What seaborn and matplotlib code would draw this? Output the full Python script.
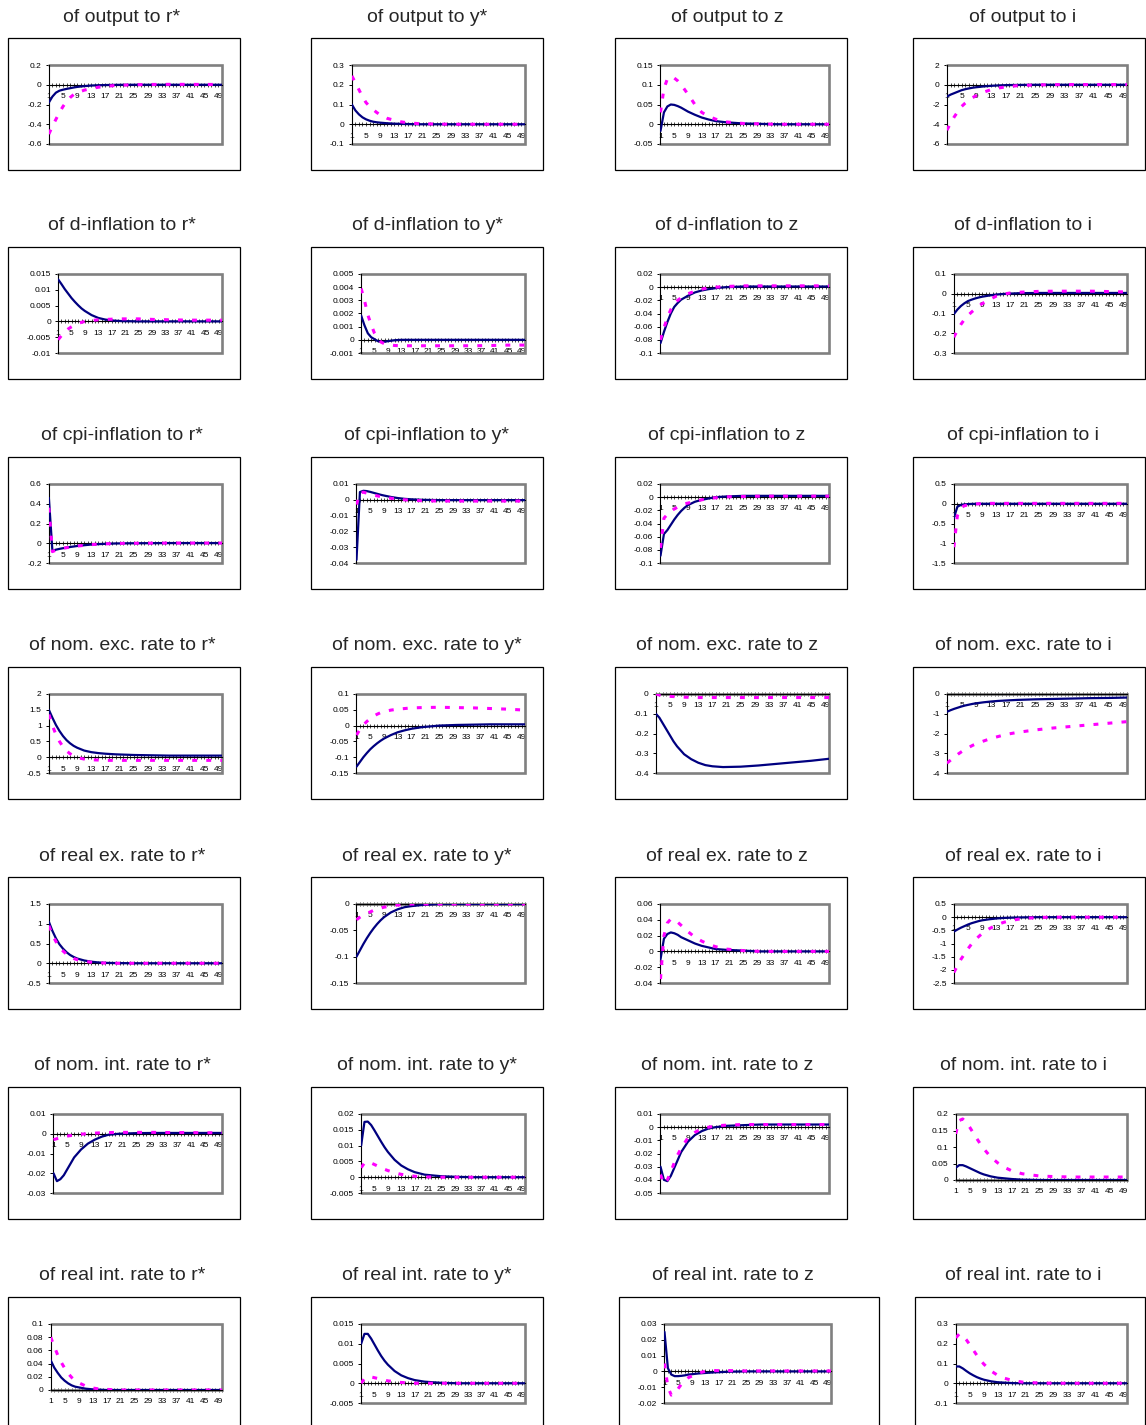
#!/usr/bin/env python3
"""Impulse responses: 7 variables x 4 shocks, two model variants per panel."""

import matplotlib
matplotlib.use("Agg")
import matplotlib.pyplot as plt
from matplotlib.patches import Rectangle
from matplotlib.ticker import FixedLocator, FuncFormatter
import numpy as np
import seaborn as sns

W, H = 1146, 1425

PERIODS = [1, 2, 3, 4, 5, 6, 7, 8, 9, 11, 13, 15, 17, 20, 25, 30, 35, 40, 45, 50]
X_LABELS = [1, 5, 9, 13, 17, 21, 25, 29, 33, 37, 41, 45, 49]
VARIABLES = ["output", "d-inflation", "cpi-inflation", "nom. exc. rate",
             "real ex. rate", "nom. int. rate", "real int. rate"]
SHOCKS = ["r*", "y*", "z", "i"]

# ---- output
output_rstar_base = [-0.18, -0.12, -0.08, -0.06, -0.05, -0.042, -0.035, -0.028, -0.022, -0.014,
                     -0.008, -0.005, -0.003, -0.001, 0, 0, 0, 0, 0, 0]
output_rstar_alt = [-0.5, -0.42, -0.35, -0.28, -0.22, -0.17, -0.13, -0.1, -0.08, -0.055,
                    -0.038, -0.025, -0.016, -0.007, 0.0, 0.003, 0.004, 0.004, 0.003, 0.003]
output_ystar_base = [0.1, 0.07, 0.05, 0.035, 0.025, 0.018, 0.013, 0.01, 0.008, 0.005,
                     0.003, 0.002, 0.001, 0, 0, 0, 0, 0, 0, 0]
output_ystar_alt = [0.245, 0.21, 0.175, 0.14, 0.11, 0.09, 0.075, 0.06, 0.048, 0.03,
                    0.02, 0.012, 0.007, 0.003, 0.001, 0, 0, 0, 0, 0]
output_z_base = [-0.017, 0.03, 0.045, 0.05, 0.049, 0.046, 0.042, 0.037, 0.032, 0.024,
                 0.017, 0.012, 0.008, 0.005, 0.002, 0.001, 0, 0, 0, 0]
output_z_alt = [0.03, 0.09, 0.115, 0.12, 0.117, 0.11, 0.1, 0.088, 0.076, 0.05,
                0.03, 0.02, 0.013, 0.006, 0.002, 0.001, 0, 0, 0, 0]
output_i_base = [-1.2, -1.0, -0.85, -0.7, -0.55, -0.45, -0.37, -0.3, -0.25, -0.17,
                 -0.11, -0.07, -0.04, -0.02, 0, 0, 0, 0, 0, 0]
output_i_alt = [-4.6, -3.9, -3.25, -2.7, -2.2, -1.85, -1.55, -1.3, -1.1, -0.75,
                -0.5, -0.33, -0.22, -0.1, -0.02, 0.01, 0.02, 0.02, 0.02, 0.02]
output_yaxes = [(-0.6, 0.2, 0.2), (-0.1, 0.3, 0.1), (-0.05, 0.15, 0.05), (-6, 2, 2)]

# ---- d-inflation
dinf_rstar_base = [0.0133, 0.0118, 0.0102, 0.0088, 0.0074, 0.0062, 0.0051, 0.0041, 0.0033, 0.002,
                   0.0011, 0.0006, 0.0003, 0.0001, 0, 0, 0, 0, 0, 0]
dinf_rstar_alt = [-0.0058, -0.0045, -0.0033, -0.0024, -0.0017, -0.0011, -0.0006, -0.0003, 0.0, 0.0003,
                  0.0005, 0.0006, 0.0007, 0.0008, 0.0008, 0.0006, 0.0005, 0.0004, 0.0004, 0.0004]
dinf_ystar_base = [0.00185, 0.0011, 0.0005, 0.0002, 0.00005, -0.0001, -0.00015, -0.00015, -0.0001, -0.00003,
                   0, 0, 0, 0, 0, 0, 0, 0, 0, 0]
dinf_ystar_alt = [0.0039, 0.003, 0.0019, 0.00115, 0.0005, 0.0001, -0.00018, -0.0003, -0.00036, -0.00043,
                  -0.00045, -0.00045, -0.00045, -0.00045, -0.00045, -0.00045, -0.00045, -0.00043, -0.0004, -0.0004]
dinf_z_base = [-0.085, -0.068, -0.053, -0.04, -0.03, -0.024, -0.019, -0.016, -0.013, -0.008,
               -0.005, -0.003, -0.0015, 0, 0.001, 0.001, 0.001, 0.001, 0.001, 0.001]
dinf_z_alt = [-0.08, -0.062, -0.046, -0.034, -0.025, -0.02, -0.016, -0.013, -0.01, -0.006,
              -0.003, -0.001, 0, 0.001, 0.002, 0.002, 0.002, 0.002, 0.002, 0.002]
dinf_i_base = [-0.103, -0.08, -0.062, -0.048, -0.037, -0.03, -0.024, -0.019, -0.015, -0.009,
               -0.004, -0.001, 0.001, 0.003, 0.004, 0.004, 0.004, 0.004, 0.004, 0.004]
dinf_i_alt = [-0.22, -0.185, -0.155, -0.13, -0.11, -0.093, -0.078, -0.063, -0.05, -0.03,
              -0.012, -0.002, 0.004, 0.008, 0.012, 0.013, 0.013, 0.013, 0.011, 0.009]
dinf_yaxes = [(-0.01, 0.015, 0.005), (-0.001, 0.005, 0.001), (-0.1, 0.02, 0.02), (-0.3, 0.1, 0.1)]

# ---- cpi-inflation
cpi_rstar_base = [0.46, -0.075, -0.065, -0.057, -0.05, -0.044, -0.038, -0.033, -0.028, -0.02,
                  -0.013, -0.009, -0.006, -0.002, 0, 0.001, 0.002, 0.002, 0.002, 0.002]
cpi_rstar_alt = [0.36, -0.085, -0.07, -0.06, -0.052, -0.045, -0.039, -0.034, -0.029, -0.021,
                 -0.014, -0.009, -0.006, -0.002, 0, 0.001, 0.002, 0.002, 0.002, 0.002]
cpi_ystar_base = [-0.038, 0.0049, 0.0057, 0.0055, 0.005, 0.0044, 0.0038, 0.0032, 0.0027, 0.0018,
                  0.0011, 0.0006, 0.0003, 0, -0.0002, -0.0002, -0.0002, -0.0002, -0.0002, -0.0002]
cpi_ystar_alt = [-0.003, 0.0045, 0.0048, 0.0042, 0.0035, 0.003, 0.0025, 0.002, 0.0016, 0.001,
                 0.0004, 0, -0.0003, -0.0006, -0.0008, -0.0008, -0.0008, -0.0008, -0.0008, -0.0008]
cpi_z_base = [-0.089, -0.056, -0.05, -0.042, -0.034, -0.027, -0.021, -0.016, -0.012, -0.007,
              -0.004, -0.002, 0, 0.001, 0.002, 0.002, 0.002, 0.002, 0.002, 0.002]
cpi_z_alt = [-0.077, -0.032, -0.026, -0.021, -0.018, -0.015, -0.012, -0.01, -0.009, -0.006,
             -0.004, -0.002, -0.001, 0.0005, 0.001, 0.0015, 0.0015, 0.0015, 0.0015, 0.0015]
cpi_i_base = [-0.36, -0.075, -0.03, -0.015, -0.008, -0.004, -0.002, 0, 0, 0,
              0, 0, 0, 0, 0, 0, 0, 0, 0, 0]
cpi_i_alt = [-1.1, -0.3, -0.1, -0.05, -0.03, -0.02, -0.01, 0, 0, 0.01,
             0.01, 0.01, 0.01, 0.01, 0.01, 0.01, 0.01, 0.01, 0.01, 0.01]
cpi_yaxes = [(-0.2, 0.6, 0.2), (-0.04, 0.01, 0.01), (-0.1, 0.02, 0.02), (-1.5, 0.5, 0.5)]

# ---- nominal exchange rate
nexr_rstar_base = [1.5, 1.25, 1.02, 0.83, 0.67, 0.54, 0.44, 0.36, 0.3, 0.21,
                   0.16, 0.13, 0.11, 0.09, 0.07, 0.06, 0.05, 0.05, 0.05, 0.05]
nexr_rstar_alt = [1.35, 1.0, 0.72, 0.5, 0.33, 0.2, 0.11, 0.04, -0.01, -0.06,
                  -0.08, -0.09, -0.1, -0.1, -0.1, -0.1, -0.1, -0.1, -0.1, -0.1]
nexr_ystar_base = [-0.13, -0.115, -0.1, -0.087, -0.075, -0.065, -0.056, -0.048, -0.041, -0.03,
                   -0.021, -0.015, -0.01, -0.005, 0, 0.002, 0.003, 0.004, 0.004, 0.004]
nexr_ystar_alt = [-0.03, -0.012, 0.002, 0.013, 0.022, 0.03, 0.036, 0.041, 0.044, 0.049,
                  0.052, 0.054, 0.056, 0.057, 0.058, 0.057, 0.056, 0.054, 0.052, 0.049]
nexr_z_base = [-0.1, -0.12, -0.15, -0.18, -0.21, -0.24, -0.265, -0.285, -0.305, -0.33,
               -0.348, -0.36, -0.366, -0.37, -0.368, -0.362, -0.354, -0.346, -0.338, -0.328]
nexr_z_alt = [0, -0.005, -0.008, -0.01, -0.012, -0.013, -0.014, -0.015, -0.016, -0.017,
              -0.018, -0.018, -0.018, -0.018, -0.018, -0.018, -0.018, -0.018, -0.018, -0.018]
nexr_i_base = [-0.9, -0.82, -0.75, -0.69, -0.63, -0.58, -0.54, -0.5, -0.47, -0.42,
               -0.38, -0.35, -0.33, -0.3, -0.27, -0.25, -0.23, -0.21, -0.2, -0.18]
nexr_i_alt = [-3.5, -3.35, -3.2, -3.05, -2.92, -2.8, -2.7, -2.6, -2.52, -2.38,
              -2.25, -2.15, -2.05, -1.95, -1.82, -1.72, -1.64, -1.56, -1.48, -1.4]
nexr_yaxes = [(-0.5, 2, 0.5), (-0.15, 0.1, 0.05), (-0.4, 0, 0.1), (-4, 0, 1)]

# ---- real exchange rate
rexr_rstar_base = [1.05, 0.82, 0.63, 0.48, 0.37, 0.28, 0.21, 0.16, 0.12, 0.07,
                   0.04, 0.02, 0.01, 0.005, 0, 0, 0, 0, 0, 0]
rexr_rstar_alt = [0.95, 0.72, 0.55, 0.41, 0.31, 0.23, 0.17, 0.12, 0.09, 0.05,
                  0.025, 0.01, 0.005, 0, 0, 0, 0, 0, 0, 0]
rexr_ystar_base = [-0.1, -0.088, -0.076, -0.065, -0.055, -0.046, -0.038, -0.031, -0.025, -0.016,
                   -0.01, -0.006, -0.004, -0.002, 0, 0, 0, 0, 0, 0]
rexr_ystar_alt = [-0.03, -0.025, -0.021, -0.018, -0.015, -0.012, -0.01, -0.008, -0.006, -0.004,
                  -0.002, -0.001, 0, 0, 0, 0, 0, 0, 0, 0]
rexr_z_base = [-0.01, 0.016, 0.022, 0.024, 0.023, 0.021, 0.018, 0.016, 0.014, 0.01,
               0.007, 0.005, 0.003, 0.002, 0.001, 0, 0, 0, 0, 0]
rexr_z_alt = [-0.035, 0.02, 0.036, 0.041, 0.04, 0.037, 0.033, 0.029, 0.025, 0.018,
              0.013, 0.009, 0.006, 0.003, 0.001, 0, 0, 0, 0, 0]
rexr_i_base = [-0.55, -0.47, -0.4, -0.34, -0.28, -0.23, -0.19, -0.15, -0.12, -0.08,
               -0.05, -0.03, -0.02, -0.01, 0, 0, 0, 0, 0, 0]
rexr_i_alt = [-2.1, -1.85, -1.6, -1.4, -1.2, -1.02, -0.87, -0.74, -0.62, -0.44,
              -0.3, -0.2, -0.13, -0.06, -0.01, 0, 0, 0, 0, 0]
rexr_yaxes = [(-0.5, 1.5, 0.5), (-0.15, 0, 0.05), (-0.04, 0.06, 0.02), (-2.5, 0.5, 0.5)]

# ---- nominal interest rate
nint_rstar_base = [-0.02, -0.024, -0.023, -0.021, -0.018, -0.015, -0.012, -0.01, -0.008, -0.005,
                   -0.003, -0.0015, -0.0005, 0, 0.0003, 0.0004, 0.0004, 0.0004, 0.0004, 0.0004]
nint_rstar_alt = [-0.003, -0.0025, -0.002, -0.0015, -0.0012, -0.0009, -0.0006, -0.0004, -0.0002, 0,
                  0.0003, 0.0005, 0.0006, 0.0007, 0.0007, 0.0007, 0.0006, 0.0006, 0.0005, 0.0005]
nint_ystar_base = [0.01, 0.0175, 0.0176, 0.0165, 0.0148, 0.013, 0.0112, 0.0095, 0.008, 0.0055,
                   0.0037, 0.0025, 0.0016, 0.0008, 0.0003, 0.0001, 0, 0, 0, 0]
nint_ystar_alt = [0.003, 0.0045, 0.0048, 0.0045, 0.004, 0.0035, 0.003, 0.0025, 0.0021, 0.0014,
                  0.0009, 0.0006, 0.0003, 0.0001, 0, 0, 0, 0, 0, 0]
nint_z_base = [-0.03, -0.04, -0.041, -0.037, -0.031, -0.025, -0.019, -0.015, -0.011, -0.006,
               -0.003, -0.001, 0, 0.001, 0.0015, 0.002, 0.002, 0.002, 0.002, 0.002]
nint_z_alt = [-0.036, -0.043, -0.04, -0.034, -0.027, -0.021, -0.016, -0.012, -0.008, -0.004,
              -0.001, 0, 0.001, 0.0015, 0.002, 0.002, 0.002, 0.002, 0.002, 0.002]
nint_i_base = [0.037, 0.045, 0.045, 0.041, 0.036, 0.031, 0.026, 0.021, 0.017, 0.011,
               0.007, 0.005, 0.003, 0.001, 0, 0, 0, 0, 0, 0]
nint_i_alt = [0.14, 0.18, 0.185, 0.175, 0.16, 0.143, 0.126, 0.11, 0.095, 0.07,
              0.052, 0.038, 0.028, 0.019, 0.012, 0.01, 0.009, 0.009, 0.009, 0.009]
nint_yaxes = [(-0.03, 0.01, 0.01), (-0.005, 0.02, 0.005), (-0.05, 0.01, 0.01), (0, 0.2, 0.05)]

# ---- real interest rate
rint_rstar_base = [0.045, 0.034, 0.026, 0.019, 0.014, 0.01, 0.007, 0.005, 0.004, 0.002,
                   0.001, 0.0005, 0, 0, 0, 0, 0, 0, 0, 0]
rint_rstar_alt = [0.08, 0.066, 0.053, 0.042, 0.033, 0.025, 0.019, 0.014, 0.011, 0.006,
                  0.003, 0.0015, 0.001, 0, 0, 0, 0, 0, 0, 0]
rint_ystar_base = [0.01, 0.0125, 0.0125, 0.0113, 0.0098, 0.0083, 0.0069, 0.0057, 0.0047, 0.0031,
                   0.002, 0.0013, 0.0008, 0.0004, 0.0001, 0, 0, 0, 0, 0]
rint_ystar_alt = [0, 0.0012, 0.0016, 0.0016, 0.0014, 0.0012, 0.001, 0.0008, 0.0006, 0.0004,
                  0.0002, 0.0001, 0, 0, 0, 0, 0, 0, 0, 0]
rint_z_base = [0.025, 0.002, -0.002, -0.003, -0.003, -0.0028, -0.0025, -0.002, -0.0018, -0.0013,
               -0.001, -0.0007, -0.0005, -0.0002, 0, 0, 0, 0, 0, 0]
rint_z_alt = [0.005, -0.01, -0.015, -0.014, -0.011, -0.008, -0.006, -0.004, -0.003, -0.001,
              0, 0.0005, 0.0005, 0.0005, 0.0003, 0.0003, 0.0003, 0.0003, 0.0003, 0.0003]
rint_i_base = [0.085, 0.085, 0.075, 0.062, 0.05, 0.04, 0.031, 0.024, 0.018, 0.01,
               0.005, 0.003, 0.001, 0, 0, 0, 0, 0, 0, 0]
rint_i_alt = [0.23, 0.25, 0.24, 0.22, 0.195, 0.168, 0.142, 0.118, 0.097, 0.063,
              0.04, 0.025, 0.015, 0.006, 0.001, 0, 0, 0, 0, 0]
rint_yaxes = [(0, 0.1, 0.02), (-0.005, 0.015, 0.005), (-0.02, 0.03, 0.01), (-0.1, 0.3, 0.1)]

PANELS = [
    [(output_rstar_base, output_rstar_alt), (output_ystar_base, output_ystar_alt),
     (output_z_base, output_z_alt), (output_i_base, output_i_alt)],
    [(dinf_rstar_base, dinf_rstar_alt), (dinf_ystar_base, dinf_ystar_alt),
     (dinf_z_base, dinf_z_alt), (dinf_i_base, dinf_i_alt)],
    [(cpi_rstar_base, cpi_rstar_alt), (cpi_ystar_base, cpi_ystar_alt),
     (cpi_z_base, cpi_z_alt), (cpi_i_base, cpi_i_alt)],
    [(nexr_rstar_base, nexr_rstar_alt), (nexr_ystar_base, nexr_ystar_alt),
     (nexr_z_base, nexr_z_alt), (nexr_i_base, nexr_i_alt)],
    [(rexr_rstar_base, rexr_rstar_alt), (rexr_ystar_base, rexr_ystar_alt),
     (rexr_z_base, rexr_z_alt), (rexr_i_base, rexr_i_alt)],
    [(nint_rstar_base, nint_rstar_alt), (nint_ystar_base, nint_ystar_alt),
     (nint_z_base, nint_z_alt), (nint_i_base, nint_i_alt)],
    [(rint_rstar_base, rint_rstar_alt), (rint_ystar_base, rint_ystar_alt),
     (rint_z_base, rint_z_alt), (rint_i_base, rint_i_alt)],
]
Y_AXES = [output_yaxes, dinf_yaxes, cpi_yaxes, nexr_yaxes, rexr_yaxes, nint_yaxes, rint_yaxes]

# layout in pixels (Excel-style chart boxes)
COL_X = [(8, 240), (311, 543), (615, 847), (913, 1145)]
LAST_ROW_X = [(8, 240), (311, 543), (619, 879), (915, 1145)]
LAST_ROW_RIGHT_GAP = [18, 18, 48, 18]
TITLE_X = [122, 427, 727, 1023]
ROW_TOP = [38, 247, 457, 667, 877, 1087, 1297]
BOX_H = 132

NAVY = "#000080"
MAGENTA = "#FF00FF"
TICK_PT = 6.0
EM = {"-": 0.333, ".": 0.278}


def _fmt(v):
    return f"{round(v, 6) + 0.0:g}"


def _fig_rect(x0, top, x1, bottom):
    return [x0 / W, 1 - bottom / H, (x1 - x0) / W, (bottom - top) / H]


sns.set_style("white")
plt.rcParams["font.family"] = ["Liberation Sans", "DejaVu Sans"]

fig = plt.figure(figsize=(W / 100, H / 100), dpi=100)

for r, var in enumerate(VARIABLES):
    last_row = r == len(VARIABLES) - 1
    for c, shock in enumerate(SHOCKS):
        base, alt = PANELS[r][c]
        lo, hi, step = Y_AXES[r][c]
        yticks = [round(v, 6) for v in np.arange(lo, hi + step / 2, step)]
        labels = [_fmt(v) for v in yticks]
        label_px = max(sum(EM.get(ch, 0.556) for ch in lab) for lab in labels) * TICK_PT * 100 / 72

        x0, x1 = (LAST_ROW_X if last_row else COL_X)[c]
        right_gap = LAST_ROW_RIGHT_GAP[c] if last_row else 18
        top = ROW_TOP[r]
        title_x = TITLE_X[c] + (6 if (last_row and c == 2) else 0)

        # chart area frame + title
        fig.add_artist(Rectangle((x0 / W, 1 - (top + BOX_H) / H), (x1 - x0) / W, BOX_H / H,
                                 transform=fig.transFigure, fill=False, ec="black", lw=0.9))
        fig.text(title_x / W, 1 - (top - 21) / H, f"of {var} to {shock}",
                 ha="center", va="center", fontsize=14)

        p_left = x0 + 26.5 + label_px
        p_right = x1 - right_gap
        p_top = top + 27
        p_bottom = top + (93 if lo == 0 else 106)
        ax = fig.add_axes(_fig_rect(p_left, p_top, p_right, p_bottom))

        sns.lineplot(x=PERIODS, y=base, ax=ax, color=NAVY, lw=1.6, zorder=4)
        sns.lineplot(x=PERIODS, y=alt, ax=ax, color=MAGENTA, lw=2.2,
                     linestyle=(0, (1.6, 3.0)), zorder=5)

        ax.set_xlim(1, 50)
        ax.set_ylim(lo, hi)
        ax.set(xlabel="", ylabel="")

        # grey plot-area border (top, right, bottom)
        ax.plot([0, 1, 1, 0], [1, 1, 0, 0], transform=ax.transAxes, color="#808080",
                lw=1.9, clip_on=False, zorder=1, solid_joinstyle="miter")

        for side in ("top", "right"):
            ax.spines[side].set_visible(False)
        ax.spines["left"].set_color("black")
        ax.spines["left"].set_linewidth(0.8)
        ax.spines["left"].set_zorder(3)
        ax.spines["bottom"].set_position(("data", 0))
        ax.spines["bottom"].set_color("black")
        ax.spines["bottom"].set_linewidth(0.8)
        ax.spines["bottom"].set_zorder(3)

        ax.yaxis.set_major_locator(FixedLocator(yticks))
        ax.yaxis.set_major_formatter(FuncFormatter(lambda v, p: _fmt(v)))
        ax.xaxis.set_major_locator(FixedLocator(X_LABELS))
        ax.xaxis.set_minor_locator(FixedLocator(list(range(1, 51))))
        ax.xaxis.set_major_formatter(FuncFormatter(lambda v, p: f"{int(round(v))}"))

        ax.tick_params(axis="y", which="major", direction="out", length=2.2, width=0.7,
                       pad=3, labelsize=TICK_PT, colors="black", left=True)
        ax.tick_params(axis="x", which="both", direction="inout", length=3, width=0.5,
                       pad=4.5, labelsize=TICK_PT, colors="black", bottom=True)
        ax.grid(False)
        ax.set_facecolor("white")

fig.savefig("out.png", dpi=100)
